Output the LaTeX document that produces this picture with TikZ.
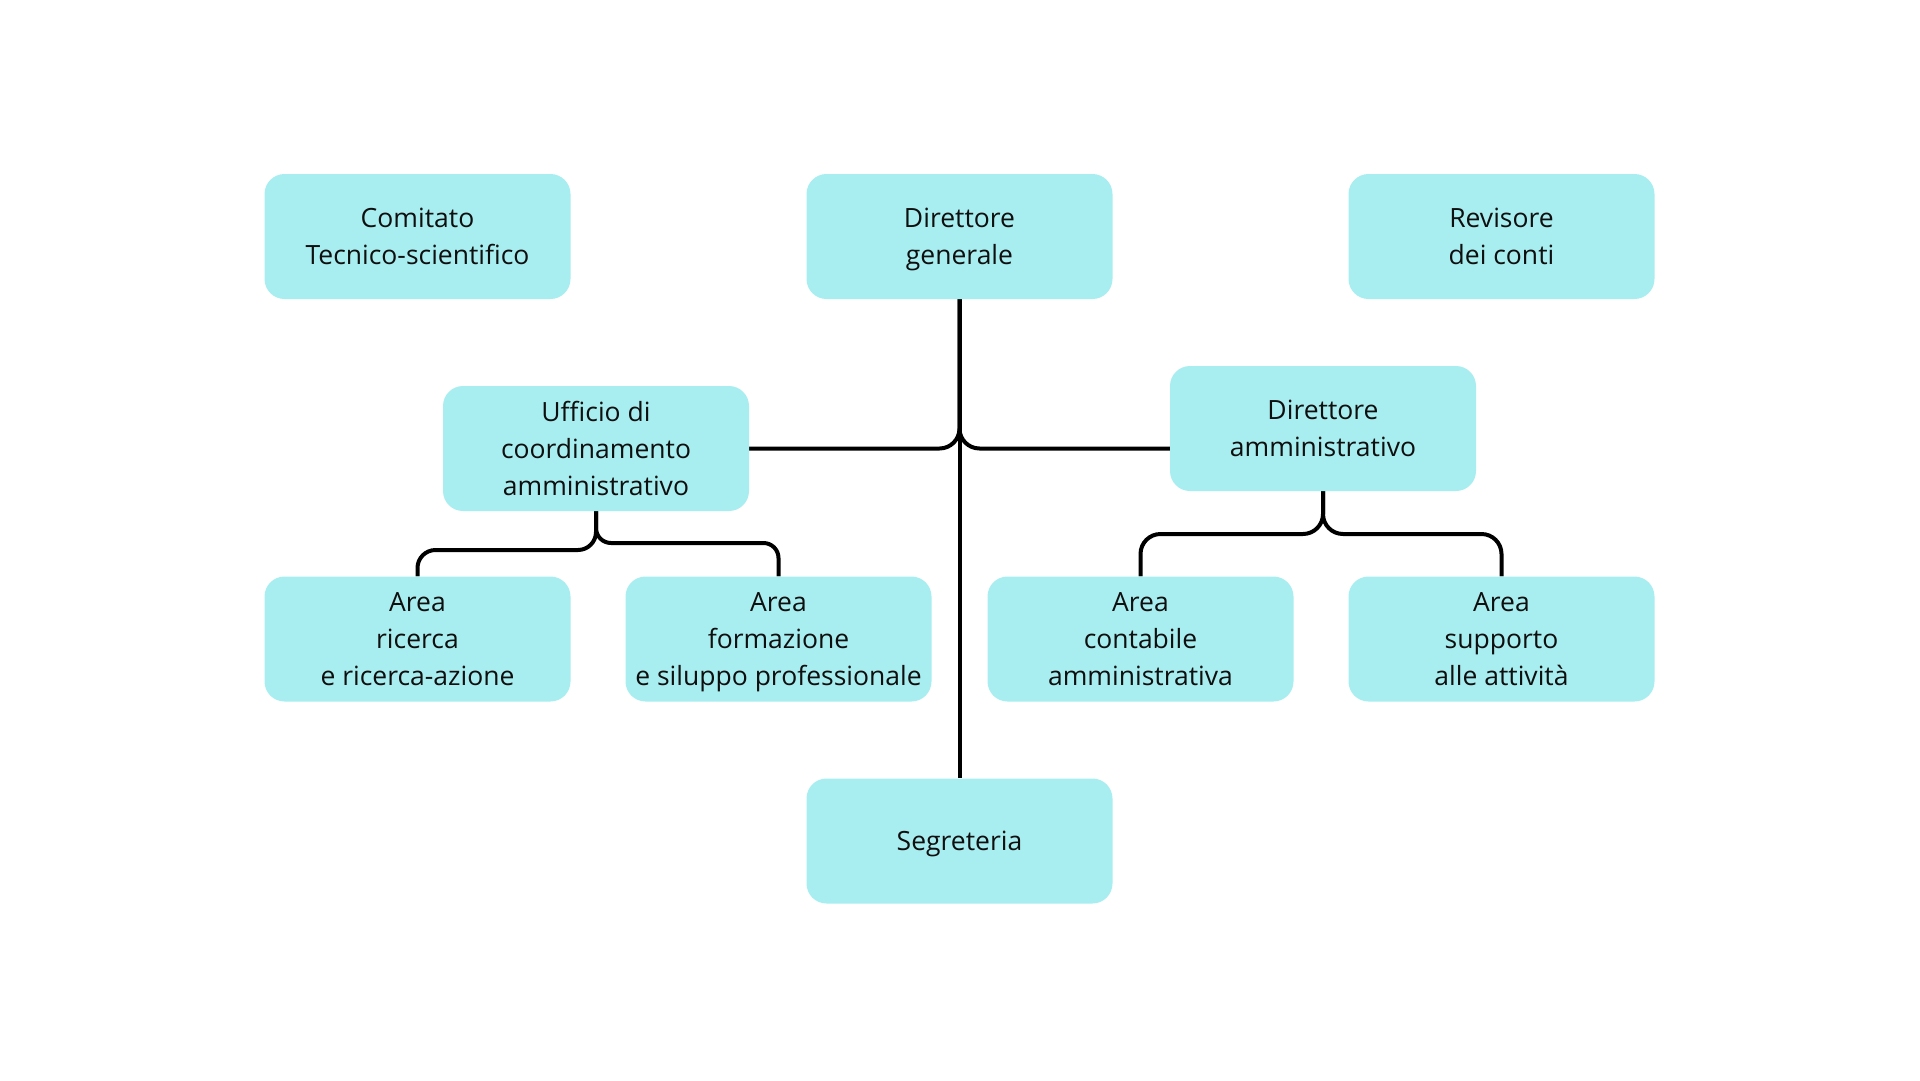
\documentclass[tikz,border=0pt]{standalone}
\usepackage{fontspec}
\setmainfont{Open Sans}
\usetikzlibrary{backgrounds}
\definecolor{boxfill}{RGB}{168,238,240}
\definecolor{inkc}{RGB}{15,15,15}
\begin{document}
\begin{tikzpicture}[x=1pt,y=-1pt,
  box/.style={fill=boxfill, rounded corners=20pt, minimum width=306pt, minimum height=125pt,
    inner sep=0pt, align=center, text depth=-3.5pt, font=\fontsize{26.5}{36.7}\selectfont, text=inkc},
  conn/.style={line width=4pt, draw=black}]
\useasboundingbox (0,0) rectangle (1920,1080);
\node[box] (com) at (417.5,236.5) {Comitato\\Tecnico-scientifico};
\node[box] (dg)  at (959.5,236.5) {Direttore\\generale};
\node[box] (rev) at (1501.5,236.5) {Revisore\\dei conti};
\node[box] (uff) at (596,448.5) {Ufficio di\\coordinamento\\amministrativo};
\node[box] (da)  at (1323,428.5) {Direttore\\amministrativo};
\node[box] (ric) at (417.5,639) {Area\\ricerca\\e ricerca-azione};
\node[box] (for) at (778.5,639) {Area\\formazione\\e siluppo professionale};
\node[box] (con) at (1140.5,639) {Area\\contabile\\amministrativa};
\node[box] (sup) at (1501.5,639) {Area\\supporto\\alle attività};
\node[box] (seg) at (959.5,841) {Segreteria};
\coordinate (yric) at (0,550);
\coordinate (yfor) at (0,543);
\coordinate (yda) at (0,534);
\begin{scope}[on background layer]
\draw[conn] (dg.south) -- (seg.north);
\draw[conn, rounded corners=20pt] (dg.south) |- (uff.east);
\draw[conn, rounded corners=20pt] (dg.south) |- (da.west |- uff.east);
\draw[conn, rounded corners=18pt] (uff.south) |- (ric.north |- yric) -- (ric.north);
\draw[conn, rounded corners=15pt] (uff.south) |- (for.north |- yfor) -- (for.north);
\draw[conn, rounded corners=20pt] (da.south) |- (con.north |- yda) -- (con.north);
\draw[conn, rounded corners=20pt] (da.south) |- (sup.north |- yda) -- (sup.north);
\end{scope}
\end{tikzpicture}
\end{document}
